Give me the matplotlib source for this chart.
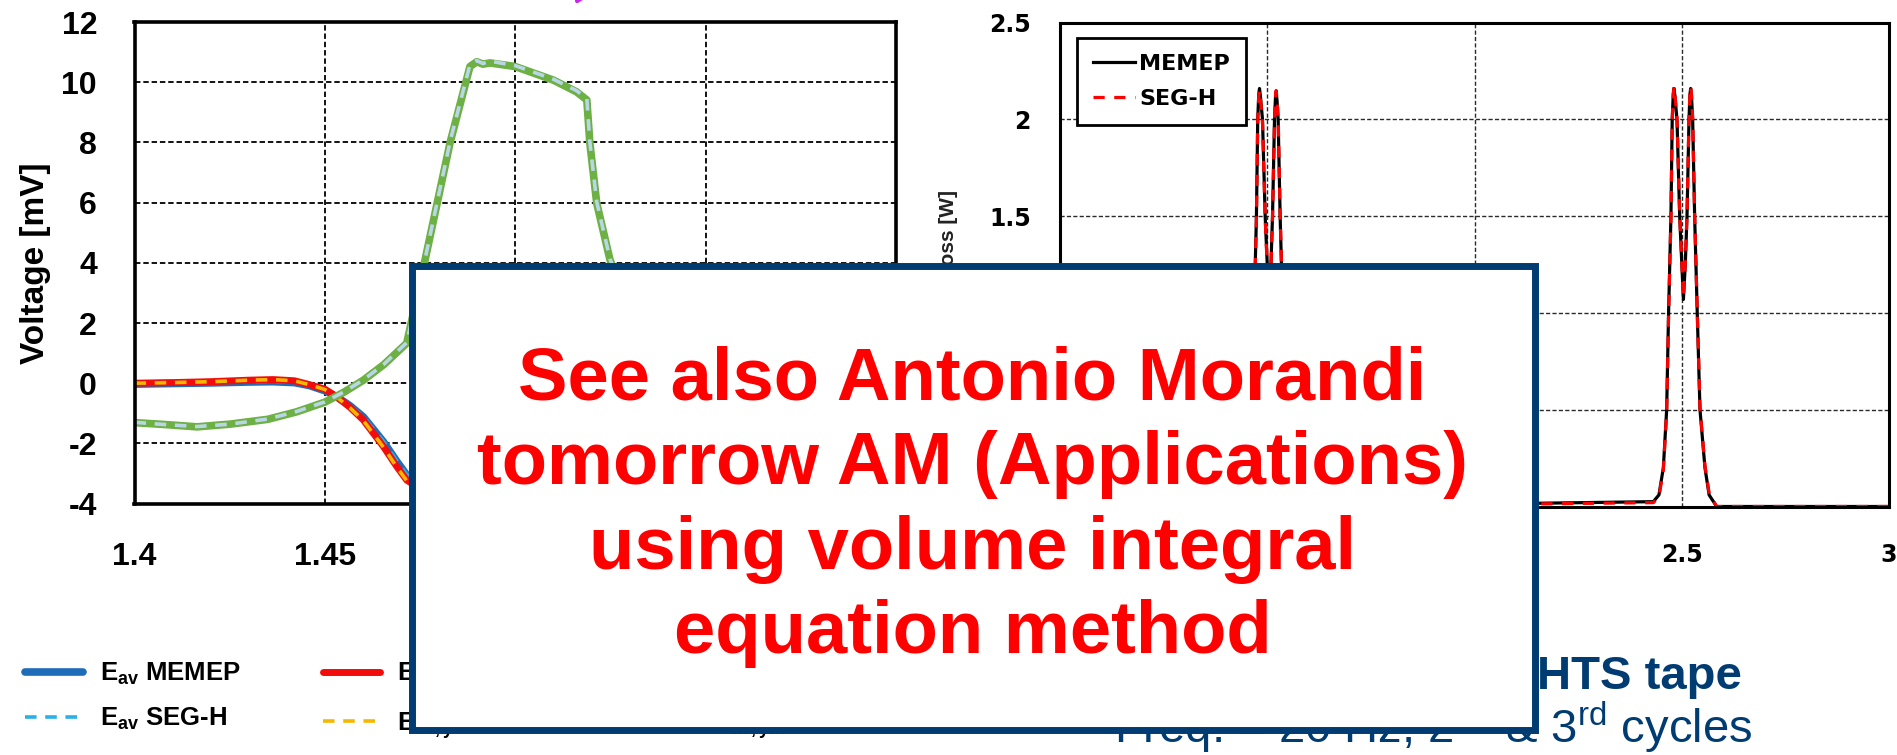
import matplotlib
matplotlib.use('Agg')
import matplotlib.pyplot as plt
from matplotlib.patches import Rectangle

plt.rcParams['font.family'] = ['Liberation Sans', 'DejaVu Sans']
plt.rcParams['mathtext.default'] = 'regular'
plt.rcParams['axes.unicode_minus'] = False

# ---- left panel: electric field / voltage traces (time in s, voltage in mV)
t_e = [1.400, 1.410, 1.420, 1.430, 1.4364, 1.442, 1.446, 1.450, 1.4531, 1.4566,
       1.4601, 1.4654, 1.4689, 1.4715, 1.475, 1.480, 1.500, 1.550, 1.600]
e_av_memep = [-0.03, -0.01, 0.01, 0.04, 0.05, 0.02, -0.08, -0.25, -0.45, -0.75,
              -1.12, -1.95, -2.60, -3.05, -3.40, -3.60, -3.40, 0.00, 0.20]
e_av_segh = [-0.02, 0.00, 0.02, 0.05, 0.06, 0.03, -0.07, -0.24, -0.44, -0.74,
             -1.10, -1.93, -2.58, -3.03, -3.38, -3.58, -3.38, 0.00, 0.20]
e_y_memep = [0.00, 0.02, 0.05, 0.10, 0.12, 0.08, -0.05, -0.20, -0.45, -0.80,
             -1.22, -2.11, -2.77, -3.22, -3.50, -3.65, -3.45, 0.00, 0.20]
e_y_segh = [0.00, 0.02, 0.05, 0.10, 0.12, 0.08, -0.05, -0.21, -0.46, -0.82,
            -1.24, -2.13, -2.79, -3.24, -3.52, -3.66, -3.46, 0.00, 0.20]

t_v = [1.400, 1.4076, 1.4164, 1.4251, 1.435, 1.4426, 1.450, 1.455, 1.4601, 1.4655,
       1.4715, 1.4763, 1.4829, 1.4881, 1.4899, 1.4915, 1.4934, 1.5000, 1.5100, 1.5161,
       1.5188, 1.5196, 1.5214, 1.5249, 1.530, 1.540, 1.560, 1.600]
v_memep = [-1.31, -1.37, -1.45, -1.36, -1.20, -0.95, -0.63, -0.30, 0.10, 0.62,
           1.33, 4.09, 8.00, 10.52, 10.68, 10.60, 10.64, 10.52, 10.07, 9.68,
           9.41, 7.97, 5.98, 4.09, 2.50, 0.50, -0.80, -1.30]
v_segh = [-1.30, -1.37, -1.44, -1.36, -1.19, -0.94, -0.62, -0.29, 0.11, 0.63,
          1.35, 4.12, 8.04, 10.58, 10.72, 10.62, 10.70, 10.55, 10.10, 9.72,
          9.45, 8.00, 6.02, 4.12, 2.52, 0.52, -0.80, -1.30]

legend_left = ['E$_{av}$ MEMEP', 'E$_{av}$ SEG-H',
               'E$_{av,y}$ MEMEP', 'E$_{av,y}$ SEG-H',
               'E$_{av,yM}$ MEMEP', 'E$_{av,yM}$ SEG-H']
# labelled ticks, plus unlabelled grid positions that sit under the note box
left_xticks = [1.40, 1.45]
left_xlabels = ['1.4', '1.45']
left_xgrid = [1.50, 1.55, 1.60]
left_yticks = [-4, -2, 0, 2, 4, 6, 8, 10, 12]
left_ylabels = ['-4', '-2', '0', '2', '4', '6', '8', '10', '12']

# ---- right panel: instantaneous loss (time in s, loss in W)
t_loss = [1.000, 1.4315, 1.4450, 1.4556, 1.4636, 1.4682, 1.4739, 1.4770, 1.4795, 1.4813,
          1.4835, 1.4885, 1.4950, 1.5040, 1.5085, 1.5127, 1.5175, 1.5198, 1.5215, 1.5235,
          1.5263, 1.5311, 1.5374, 1.5440, 1.5560, 1.5660, 1.5841,
          2.4315, 2.4450, 2.4556, 2.4636, 2.4682, 2.4739, 2.4770, 2.4795, 2.4813, 2.4835,
          2.4885, 2.4950, 2.5040, 2.5085, 2.5127, 2.5175, 2.5198, 2.5215, 2.5235, 2.5263,
          2.5311, 2.5374, 2.5440, 2.5560, 2.5660, 2.5841, 3.000]
loss_memep = [0.00, 0.025, 0.06, 0.20, 0.50, 1.00, 1.50, 2.00, 2.13, 2.16,
              2.12, 2.00, 1.50, 1.05, 1.22, 1.50, 2.00, 2.11, 2.14, 2.10,
              2.00, 1.50, 1.00, 0.50, 0.20, 0.06, 0.00,
              0.025, 0.06, 0.20, 0.50, 1.00, 1.50, 2.00, 2.13, 2.16, 2.12,
              2.00, 1.50, 1.07, 1.25, 1.50, 2.00, 2.13, 2.16, 2.12, 2.00,
              1.50, 1.00, 0.50, 0.20, 0.06, 0.00, 0.00]
loss_segh = [0.00, 0.02, 0.05, 0.19, 0.49, 0.98, 1.49, 1.99, 2.12, 2.15,
             2.11, 1.99, 1.49, 1.04, 1.21, 1.49, 1.99, 2.12, 2.15, 2.11,
             2.01, 1.51, 1.01, 0.51, 0.21, 0.07, 0.00,
             0.02, 0.05, 0.19, 0.49, 0.98, 1.49, 1.99, 2.13, 2.17, 2.13,
             2.01, 1.51, 1.08, 1.26, 1.51, 2.01, 2.14, 2.17, 2.13, 2.01,
             1.51, 1.01, 0.51, 0.21, 0.07, 0.00, 0.00]
right_xticks = [2.5, 3.0]
right_xlabels = ['2.5', '3']
right_xgrid = [1.0, 1.5, 2.0]
right_yticks = [1.5, 2.0, 2.5]
right_ylabels = ['1.5', '2', '2.5']
right_ygrid = [0.0, 0.5, 1.0]

note_lines = ['See also Antonio Morandi', 'tomorrow AM (Applications)',
              'using volume integral', 'equation method']
note_baselines = [399, 484, 569, 653]

NAVY = '#003C71'
W, H = 1897, 755


def fx(x):
    return x / W


def fy(y):
    return 1 - y / H


fig = plt.figure(figsize=(W / 100, H / 100), dpi=100)

# left axes
ax1 = fig.add_axes([fx(134.5), fy(503.6), fx(896) - fx(134.5), fy(22) - fy(503.6)])
dash = (0, (3.2, 2.4))
h1, = ax1.plot(t_e, e_av_memep, color='#1F6CB8', lw=5.5, solid_capstyle='round')
h2, = ax1.plot(t_e, e_av_segh, color='#2AB0E6', lw=2.6, ls=dash)
h3, = ax1.plot(t_e, e_y_memep, color='#F20C0C', lw=5.0, solid_capstyle='round')
h4, = ax1.plot(t_e, e_y_segh, color='#F5B800', lw=2.6, ls=dash)
h5, = ax1.plot(t_v, v_memep, color='#6DB043', lw=5.5, solid_capstyle='round')
h6, = ax1.plot(t_v, v_segh, color='#B9D6E8', lw=2.6, ls=dash)
ax1.set_xlim(1.4, 1.6)
ax1.set_ylim(-4, 12)
ax1.set_xticks(left_xticks, left_xlabels)
ax1.set_xticks(left_xgrid, minor=True)
ax1.set_yticks(left_yticks, left_ylabels)
ax1.grid(True, which='both', color='black', lw=1.3, ls=(0, (3, 1.6)))
ax1.tick_params(axis='both', which='both', length=0, labelsize=23)
ax1.tick_params(axis='y', pad=27)
ax1.tick_params(axis='x', pad=28)
for lab in ax1.get_xticklabels() + ax1.get_yticklabels():
    lab.set_fontweight('bold')
for sp in ax1.spines.values():
    sp.set_linewidth(2.6)
ax1.set_ylabel('Voltage [mV]', fontsize=24, fontweight='bold', va='center')
ax1.yaxis.set_label_coords((36 - 134.5) / (896 - 134.5), 0.5)

# right axes
ax2 = fig.add_axes([fx(1060), fy(506.5), fx(1889) - fx(1060), fy(22.7) - fy(506.5)])
r1, = ax2.plot(t_loss, loss_memep, color='black', lw=2.3, label='MEMEP')
r2, = ax2.plot(t_loss, loss_segh, color='#FF0000', lw=2.3, ls=(0, (3.5, 3)), label='SEG-H')
ax2.set_xlim(1, 3)
ax2.set_ylim(0, 2.5)
ax2.set_xticks(right_xticks, right_xlabels)
ax2.set_xticks(right_xgrid, minor=True)
ax2.set_yticks(right_yticks, right_ylabels)
ax2.set_yticks(right_ygrid, minor=True)
ax2.grid(True, which='both', color='#2a2a2a', lw=1.0, ls=(0, (3, 1.6)))
ax2.tick_params(axis='both', which='both', length=0, labelsize=17)
ax2.tick_params(axis='y', pad=21)
ax2.tick_params(axis='x', pad=26)
for lab in ax2.get_xticklabels() + ax2.get_yticklabels():
    lab.set_fontweight('bold')
    lab.set_family('DejaVu Sans')
for sp in ax2.spines.values():
    sp.set_linewidth(2.2)
leg2 = ax2.legend(handles=[r1, r2], loc='upper left',
                  bbox_to_anchor=(0.0205, 0.9684), borderaxespad=0,
                  prop={'family': 'DejaVu Sans', 'weight': 'bold', 'size': 16},
                  handlelength=1.9, handletextpad=0.2, borderpad=0.7,
                  labelspacing=0.7, fancybox=False, framealpha=1)
leg2.get_frame().set_edgecolor('black')
leg2.get_frame().set_linewidth(2.0)
fig.text(fx(949), fy(190), 'Power loss [W]', rotation=90, ha='center', va='top',
         fontsize=15, fontweight='bold', color='#222222')

# shared legend below the left panel
fig.legend(handles=[h1, h2, h3, h4, h5, h6], labels=legend_left, ncol=3,
           loc='upper left', bbox_to_anchor=(fx(25), fy(660)), frameon=False,
           prop={'family': 'Liberation Sans', 'weight': 'bold', 'size': 18.5},
           handlelength=2.25, handletextpad=0.65, columnspacing=3.2,
           labelspacing=0.75, borderpad=0, borderaxespad=0)

# caption under the right panel
fig.text(fx(1742), fy(689), 'Power loss in HTS tape', ha='right', va='baseline',
         color=NAVY, fontsize=34, fontweight='bold')
fig.text(fx(1752), fy(743), 'Freq. = 20 Hz, 2$^{nd}$ & 3$^{rd}$ cycles', ha='right',
         va='baseline', color=NAVY, fontsize=34)

# pointer arrow coming in from above
fig.add_artist(plt.Annotation('', xy=(fx(573), fy(7)), xycoords='figure fraction',
                              xytext=(fx(625), fy(-70)), textcoords='figure fraction',
                              arrowprops=dict(arrowstyle='-|>', color='#CC22EE', lw=3,
                                              mutation_scale=30),
                              annotation_clip=False))

# call-out box drawn over the charts
box = Rectangle((fx(411.5), fy(729.5)), fx(1534.5) - fx(411.5), fy(265.5) - fy(729.5),
                transform=fig.transFigure, facecolor='white', edgecolor=NAVY,
                lw=5, zorder=10)
fig.add_artist(box)
for line, base in zip(note_lines, note_baselines):
    fig.text(fx(972.5), fy(base), line, ha='center', va='baseline', color='#FF0000',
             fontsize=53.5, fontweight='bold', zorder=11)

fig.savefig('out.png', dpi=100)
